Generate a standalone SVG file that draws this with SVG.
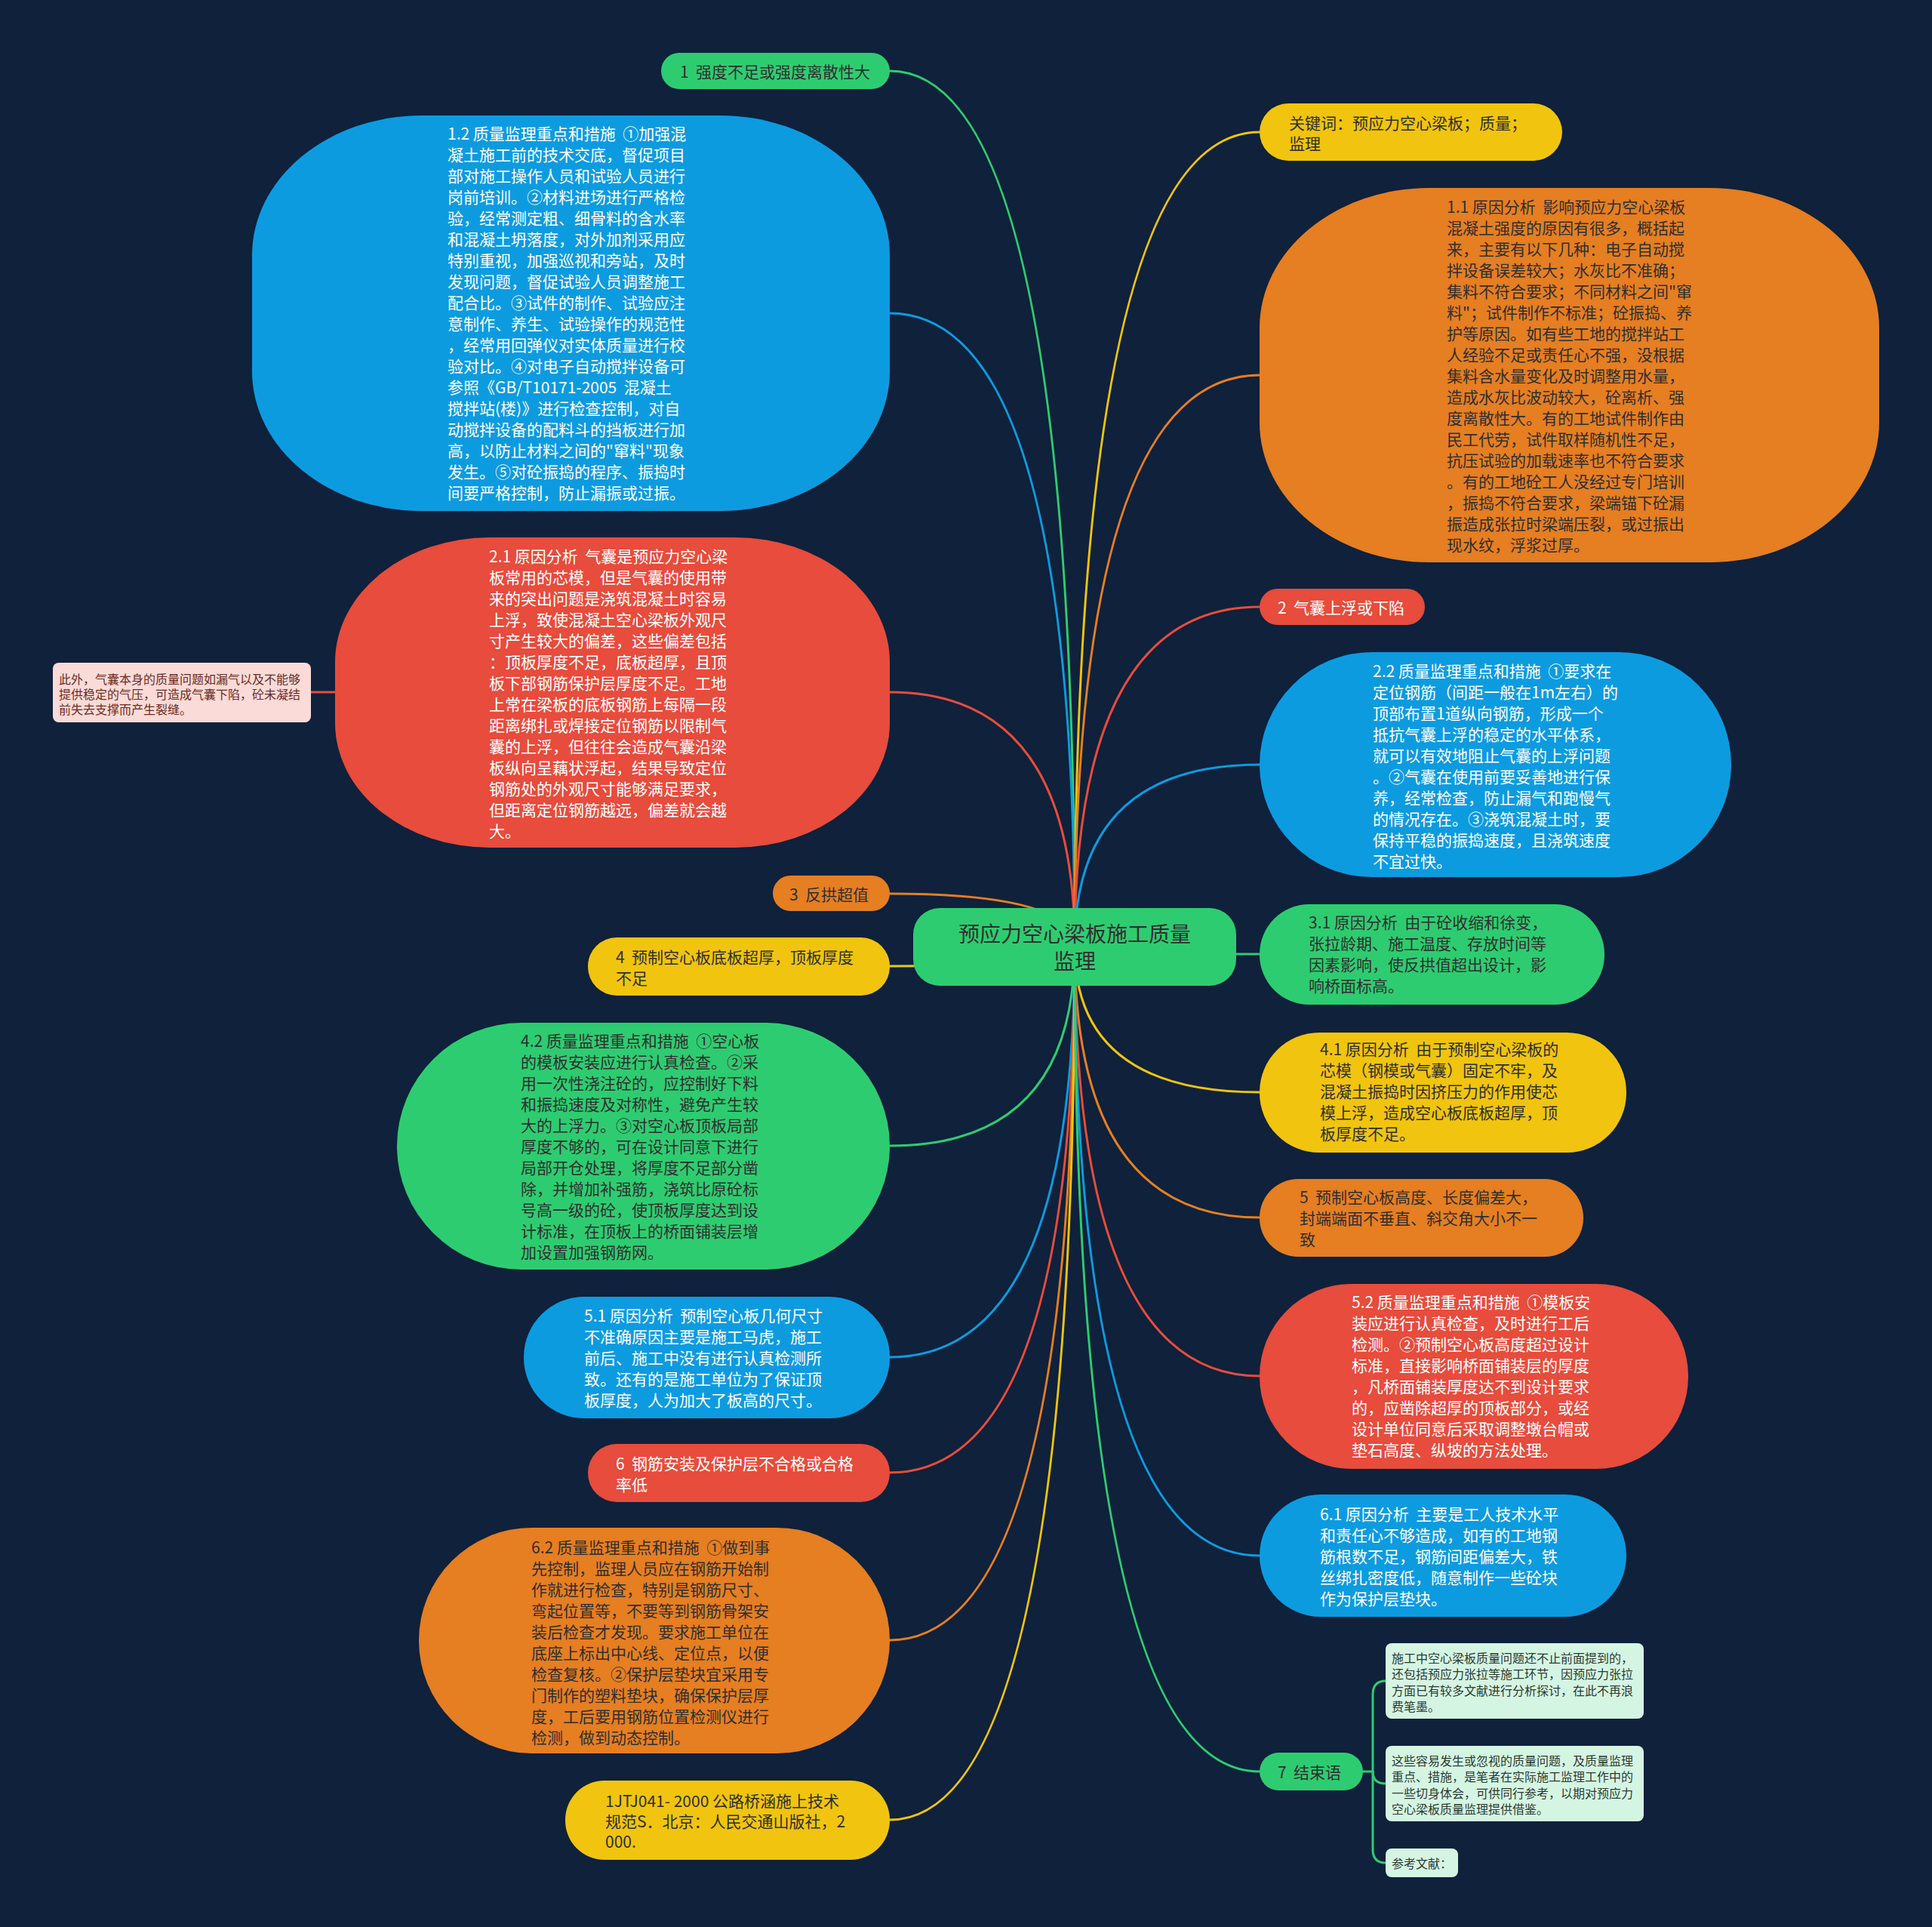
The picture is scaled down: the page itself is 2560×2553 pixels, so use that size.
<svg xmlns="http://www.w3.org/2000/svg" width="2560" height="2553" viewBox="0 0 2560 2553">
<style>
text{font-family:"Noto Sans CJK SC","Noto Sans",sans-serif;dominant-baseline:central;white-space:pre}
.t{font-size:21px}
.w{fill:#ffffff}
.d{fill:#2f2f2f}
.s{font-size:16px}
.c{fill:none;stroke-width:3;stroke-linecap:round}
.green{fill:#2ecc71}.blue{fill:#0d9be0}.red{fill:#e74c3c}.orange{fill:#e67e22}.yellow{fill:#f1c40f}
.lg{stroke:#2ecc71}.lb{stroke:#0d9be0}.lr{stroke:#e74c3c}.lo{stroke:#e67e22}.ly{stroke:#f1c40f}
.note{fill:#d5f5e3}
</style>
<rect x="0" y="0" width="2560" height="2553" fill="#0f213b"/>
<g id="connectors">
<path class="c lg" d="M1179,94 Q1424,94 1424,1254"/>
<path class="c lb" d="M1179,415 Q1424,415 1424,1254"/>
<path class="c lr" d="M1179,917 Q1424,917 1424,1254"/>
<path class="c lo" d="M1179,1184 Q1424,1184 1424,1254"/>
<path class="c ly" d="M1179,1280 Q1424,1280 1424,1254"/>
<path class="c lg" d="M1179,1518 Q1424,1518 1424,1254"/>
<path class="c lb" d="M1179,1798 Q1424,1798 1424,1254"/>
<path class="c lr" d="M1179,1951 Q1424,1951 1424,1254"/>
<path class="c lo" d="M1179,2173 Q1424,2173 1424,1254"/>
<path class="c ly" d="M1179,2411 Q1424,2411 1424,1254"/>
<path class="c ly" d="M1669,175 Q1424,175 1424,1254"/>
<path class="c lo" d="M1669,497 Q1424,497 1424,1254"/>
<path class="c lr" d="M1669,804 Q1424,804 1424,1254"/>
<path class="c lb" d="M1669,1013 Q1424,1013 1424,1254"/>
<path class="c lg" d="M1669,1264 Q1424,1264 1424,1254"/>
<path class="c ly" d="M1669,1447 Q1424,1447 1424,1254"/>
<path class="c lo" d="M1669,1613 Q1424,1613 1424,1254"/>
<path class="c lr" d="M1669,1823 Q1424,1823 1424,1254"/>
<path class="c lb" d="M1669,2061 Q1424,2061 1424,1254"/>
<path class="c lg" d="M1669,2347 Q1424,2347 1424,1254"/>
<path class="c lr" d="M412,917 L444,917"/>
<path class="c lg" d="M1806,2347 L1819,2347 L1819,2245 Q1819,2227 1836,2227"/>
<path class="c lg" d="M1819,2347 Q1819,2363 1836,2363"/>
<path class="c lg" d="M1819,2347 L1819,2450 Q1819,2468 1836,2468"/>
</g>
<g id="center">
<rect class="green" x="1210" y="1203" width="428" height="103" rx="35"/>
<text class="d" font-size="28" text-anchor="middle"><tspan x="1424" y="1236">预应力空心梁板施工质量</tspan><tspan x="1424" y="1272">监理</tspan></text>
</g>
<g id="n1">
<rect class="green" x="876" y="70" width="303" height="48" rx="24"/>
<text class="t d" x="901" y="94">1  强度不足或强度离散性大</text>
</g>
<g id="n1-2">
<rect class="blue" x="334" y="153" width="845" height="524" rx="225" ry="185"/>
<text class="t w"><tspan x="593" y="176">1.2 质量监理重点和措施  ①加强混</tspan><tspan x="593" y="204">凝土施工前的技术交底，督促项目</tspan><tspan x="593" y="232">部对施工操作人员和试验人员进行</tspan><tspan x="593" y="260">岗前培训。②材料进场进行严格检</tspan><tspan x="593" y="288">验，经常测定粗、细骨料的含水率</tspan><tspan x="593" y="316">和混凝土坍落度，对外加剂采用应</tspan><tspan x="593" y="344">特别重视，加强巡视和旁站，及时</tspan><tspan x="593" y="372">发现问题，督促试验人员调整施工</tspan><tspan x="593" y="400">配合比。③试件的制作、试验应注</tspan><tspan x="593" y="428">意制作、养生、试验操作的规范性</tspan><tspan x="593" y="456">，经常用回弹仪对实体质量进行校</tspan><tspan x="593" y="484">验对比。④对电子自动搅拌设备可</tspan><tspan x="593" y="512">参照《GB/T10171-2005  混凝土</tspan><tspan x="593" y="540">搅拌站(楼)》进行检查控制，对自</tspan><tspan x="593" y="568">动搅拌设备的配料斗的挡板进行加</tspan><tspan x="593" y="596">高，以防止材料之间的"窜料"现象</tspan><tspan x="593" y="624">发生。⑤对砼振捣的程序、振捣时</tspan><tspan x="593" y="652">间要严格控制，防止漏振或过振。</tspan></text>
</g>
<g id="n2-1">
<rect class="red" x="444" y="712" width="735" height="411" rx="205" ry="165"/>
<text class="t w"><tspan x="648" y="736">2.1 原因分析  气囊是预应力空心梁</tspan><tspan x="648" y="764">板常用的芯模，但是气囊的使用带</tspan><tspan x="648" y="792">来的突出问题是浇筑混凝土时容易</tspan><tspan x="648" y="820">上浮，致使混凝土空心梁板外观尺</tspan><tspan x="648" y="848">寸产生较大的偏差，这些偏差包括</tspan><tspan x="648" y="876">：顶板厚度不足，底板超厚，且顶</tspan><tspan x="648" y="904">板下部钢筋保护层厚度不足。工地</tspan><tspan x="648" y="932">上常在梁板的底板钢筋上每隔一段</tspan><tspan x="648" y="960">距离绑扎或焊接定位钢筋以限制气</tspan><tspan x="648" y="988">囊的上浮，但往往会造成气囊沿梁</tspan><tspan x="648" y="1016">板纵向呈藕状浮起，结果导致定位</tspan><tspan x="648" y="1044">钢筋处的外观尺寸能够满足要求，</tspan><tspan x="648" y="1072">但距离定位钢筋越远，偏差就会越</tspan><tspan x="648" y="1100">大。</tspan></text>
</g>
<g id="note-left">
<rect x="70" y="878" width="342" height="79" rx="8" fill="#fadbd8"/>
<text class="s" fill="#6e2a22"><tspan x="78" y="899">此外，气囊本身的质量问题如漏气以及不能够</tspan><tspan x="78" y="919">提供稳定的气压，可造成气囊下陷，砼未凝结</tspan><tspan x="78" y="939">前失去支撑而产生裂缝。</tspan></text>
</g>
<g id="n3">
<rect class="orange" x="1024" y="1160" width="155" height="47" rx="23.5"/>
<text class="t d" x="1046" y="1184">3  反拱超值</text>
</g>
<g id="n4">
<rect class="yellow" x="779" y="1242" width="400" height="77" rx="38"/>
<text class="t d"><tspan x="816" y="1267">4  预制空心板底板超厚，顶板厚度</tspan><tspan x="816" y="1295">不足</tspan></text>
</g>
<g id="n4-2">
<rect class="green" x="526" y="1355" width="653" height="327" rx="165"/>
<text class="t d"><tspan x="690" y="1378">4.2 质量监理重点和措施  ①空心板</tspan><tspan x="690" y="1406">的模板安装应进行认真检查。②采</tspan><tspan x="690" y="1434">用一次性浇注砼的，应控制好下料</tspan><tspan x="690" y="1462">和振捣速度及对称性，避免产生较</tspan><tspan x="690" y="1490">大的上浮力。③对空心板顶板局部</tspan><tspan x="690" y="1518">厚度不够的，可在设计同意下进行</tspan><tspan x="690" y="1546">局部开仓处理，将厚度不足部分凿</tspan><tspan x="690" y="1574">除，并增加补强筋，浇筑比原砼标</tspan><tspan x="690" y="1602">号高一级的砼，使顶板厚度达到设</tspan><tspan x="690" y="1630">计标准，在顶板上的桥面铺装层增</tspan><tspan x="690" y="1658">加设置加强钢筋网。</tspan></text>
</g>
<g id="n5-1">
<rect class="blue" x="694" y="1718" width="485" height="161" rx="80"/>
<text class="t w"><tspan x="774" y="1742">5.1 原因分析  预制空心板几何尺寸</tspan><tspan x="774" y="1770">不准确原因主要是施工马虎，施工</tspan><tspan x="774" y="1798">前后、施工中没有进行认真检测所</tspan><tspan x="774" y="1826">致。还有的是施工单位为了保证顶</tspan><tspan x="774" y="1854">板厚度，人为加大了板高的尺寸。</tspan></text>
</g>
<g id="n6">
<rect class="red" x="779" y="1913" width="400" height="77" rx="38"/>
<text class="t w"><tspan x="816" y="1938">6  钢筋安装及保护层不合格或合格</tspan><tspan x="816" y="1966">率低</tspan></text>
</g>
<g id="n6-2">
<rect class="orange" x="555" y="2024" width="624" height="299" rx="150"/>
<text class="t d"><tspan x="704" y="2049">6.2 质量监理重点和措施  ①做到事</tspan><tspan x="704" y="2077">先控制，监理人员应在钢筋开始制</tspan><tspan x="704" y="2105">作就进行检查，特别是钢筋尺寸、</tspan><tspan x="704" y="2133">弯起位置等，不要等到钢筋骨架安</tspan><tspan x="704" y="2161">装后检查才发现。要求施工单位在</tspan><tspan x="704" y="2189">底座上标出中心线、定位点，以便</tspan><tspan x="704" y="2217">检查复核。②保护层垫块宜采用专</tspan><tspan x="704" y="2245">门制作的塑料垫块，确保保护层厚</tspan><tspan x="704" y="2273">度，工后要用钢筋位置检测仪进行</tspan><tspan x="704" y="2301">检测，做到动态控制。</tspan></text>
</g>
<g id="nref">
<rect class="yellow" x="749" y="2359" width="430" height="105" rx="52"/>
<text class="t d"><tspan x="802" y="2385">1JTJ041- 2000 公路桥涵施上技术</tspan><tspan x="802" y="2412">规范S．北京：人民交通山版社，2</tspan><tspan x="802" y="2439">000.</tspan></text>
</g>
<g id="nkey">
<rect class="yellow" x="1669" y="137" width="401" height="76" rx="38"/>
<text class="t d"><tspan x="1708" y="162">关键词：预应力空心梁板；质量；</tspan><tspan x="1708" y="189">监理</tspan></text>
</g>
<g id="n1-1">
<rect class="orange" x="1669" y="249" width="821" height="496" rx="225" ry="185"/>
<text class="t d"><tspan x="1917" y="273">1.1 原因分析  影响预应力空心梁板</tspan><tspan x="1917" y="301">混凝土强度的原因有很多，概括起</tspan><tspan x="1917" y="329">来，主要有以下几种：电子自动搅</tspan><tspan x="1917" y="357">拌设备误差较大；水灰比不准确；</tspan><tspan x="1917" y="385">集料不符合要求；不同材料之间"窜</tspan><tspan x="1917" y="413">料"；试件制作不标准；砼振捣、养</tspan><tspan x="1917" y="441">护等原因。如有些工地的搅拌站工</tspan><tspan x="1917" y="469">人经验不足或责任心不强，没根据</tspan><tspan x="1917" y="497">集料含水量变化及时调整用水量，</tspan><tspan x="1917" y="525">造成水灰比波动较大，砼离析、强</tspan><tspan x="1917" y="553">度离散性大。有的工地试件制作由</tspan><tspan x="1917" y="581">民工代劳，试件取样随机性不足，</tspan><tspan x="1917" y="609">抗压试验的加载速率也不符合要求</tspan><tspan x="1917" y="637">。有的工地砼工人没经过专门培训</tspan><tspan x="1917" y="665">，振捣不符合要求，梁端锚下砼漏</tspan><tspan x="1917" y="693">振造成张拉时梁端压裂，或过振出</tspan><tspan x="1917" y="721">现水纹，浮浆过厚。</tspan></text>
</g>
<g id="n2">
<rect class="red" x="1669" y="780" width="219" height="48" rx="24"/>
<text class="t w" x="1693" y="804">2  气囊上浮或下陷</text>
</g>
<g id="n2-2">
<rect class="blue" x="1669" y="864" width="625" height="298" rx="149"/>
<text class="t w"><tspan x="1819" y="888">2.2 质量监理重点和措施  ①要求在</tspan><tspan x="1819" y="916">定位钢筋（间距一般在1m左右）的</tspan><tspan x="1819" y="944">顶部布置1道纵向钢筋，形成一个</tspan><tspan x="1819" y="972">抵抗气囊上浮的稳定的水平体系，</tspan><tspan x="1819" y="1000">就可以有效地阻止气囊的上浮问题</tspan><tspan x="1819" y="1028">。②气囊在使用前要妥善地进行保</tspan><tspan x="1819" y="1056">养，经常检查，防止漏气和跑慢气</tspan><tspan x="1819" y="1084">的情况存在。③浇筑混凝土时，要</tspan><tspan x="1819" y="1112">保持平稳的振捣速度，且浇筑速度</tspan><tspan x="1819" y="1140">不宜过快。</tspan></text>
</g>
<g id="n3-1">
<rect class="green" x="1669" y="1198" width="457" height="133" rx="66"/>
<text class="t d"><tspan x="1734" y="1221">3.1 原因分析  由于砼收缩和徐变，</tspan><tspan x="1734" y="1249">张拉龄期、施工温度、存放时间等</tspan><tspan x="1734" y="1277">因素影响，使反拱值超出设计，影</tspan><tspan x="1734" y="1305">响桥面标高。</tspan></text>
</g>
<g id="n4-1">
<rect class="yellow" x="1669" y="1368" width="486" height="159" rx="79"/>
<text class="t d"><tspan x="1749" y="1389">4.1 原因分析  由于预制空心梁板的</tspan><tspan x="1749" y="1417">芯模（钢模或气囊）固定不牢，及</tspan><tspan x="1749" y="1445">混凝土振捣时因挤压力的作用使芯</tspan><tspan x="1749" y="1473">模上浮，造成空心板底板超厚，顶</tspan><tspan x="1749" y="1501">板厚度不足。</tspan></text>
</g>
<g id="n5">
<rect class="orange" x="1669" y="1562" width="429" height="103" rx="51"/>
<text class="t d"><tspan x="1722" y="1585">5  预制空心板高度、长度偏差大，</tspan><tspan x="1722" y="1613">封端端面不垂直、斜交角大小不一</tspan><tspan x="1722" y="1641">致</tspan></text>
</g>
<g id="n5-2">
<rect class="red" x="1669" y="1701" width="568" height="245" rx="122"/>
<text class="t w"><tspan x="1791" y="1724">5.2 质量监理重点和措施  ①模板安</tspan><tspan x="1791" y="1752">装应进行认真检查，及时进行工后</tspan><tspan x="1791" y="1780">检测。②预制空心板高度超过设计</tspan><tspan x="1791" y="1808">标准，直接影响桥面铺装层的厚度</tspan><tspan x="1791" y="1836">，凡桥面铺装厚度达不到设计要求</tspan><tspan x="1791" y="1864">的，应凿除超厚的顶板部分，或经</tspan><tspan x="1791" y="1892">设计单位同意后采取调整墩台帽或</tspan><tspan x="1791" y="1920">垫石高度、纵坡的方法处理。</tspan></text>
</g>
<g id="n6-1">
<rect class="blue" x="1669" y="1980" width="486" height="162" rx="81"/>
<text class="t w"><tspan x="1749" y="2005">6.1 原因分析  主要是工人技术水平</tspan><tspan x="1749" y="2033">和责任心不够造成，如有的工地钢</tspan><tspan x="1749" y="2061">筋根数不足，钢筋间距偏差大，铁</tspan><tspan x="1749" y="2089">丝绑扎密度低，随意制作一些砼块</tspan><tspan x="1749" y="2117">作为保护层垫块。</tspan></text>
</g>
<g id="n7">
<rect class="green" x="1669" y="2322" width="137" height="50" rx="25"/>
<text class="t d" x="1693" y="2347">7  结束语</text>
</g>
<g id="note-a">
<rect class="note" x="1836" y="2177" width="342" height="100" rx="8"/>
<text class="s" fill="#2b3a30"><tspan x="1844" y="2196">施工中空心梁板质量问题还不止前面提到的，</tspan><tspan x="1844" y="2217">还包括预应力张拉等施工环节，因预应力张拉</tspan><tspan x="1844" y="2239">方面已有较多文献进行分析探讨，在此不再浪</tspan><tspan x="1844" y="2260">费笔墨。</tspan></text>
</g>
<g id="note-b">
<rect class="note" x="1836" y="2313" width="342" height="100" rx="8"/>
<text class="s" fill="#2b3a30"><tspan x="1844" y="2332">这些容易发生或忽视的质量问题，及质量监理</tspan><tspan x="1844" y="2353">重点、措施，是笔者在实际施工监理工作中的</tspan><tspan x="1844" y="2375">一些切身体会，可供同行参考，以期对预应力</tspan><tspan x="1844" y="2396">空心梁板质量监理提供借鉴。</tspan></text>
</g>
<g id="note-c">
<rect class="note" x="1836" y="2449" width="96" height="38" rx="8"/>
<text class="s" fill="#2b3a30" x="1844" y="2468">参考文献：</text>
</g>
</svg>
